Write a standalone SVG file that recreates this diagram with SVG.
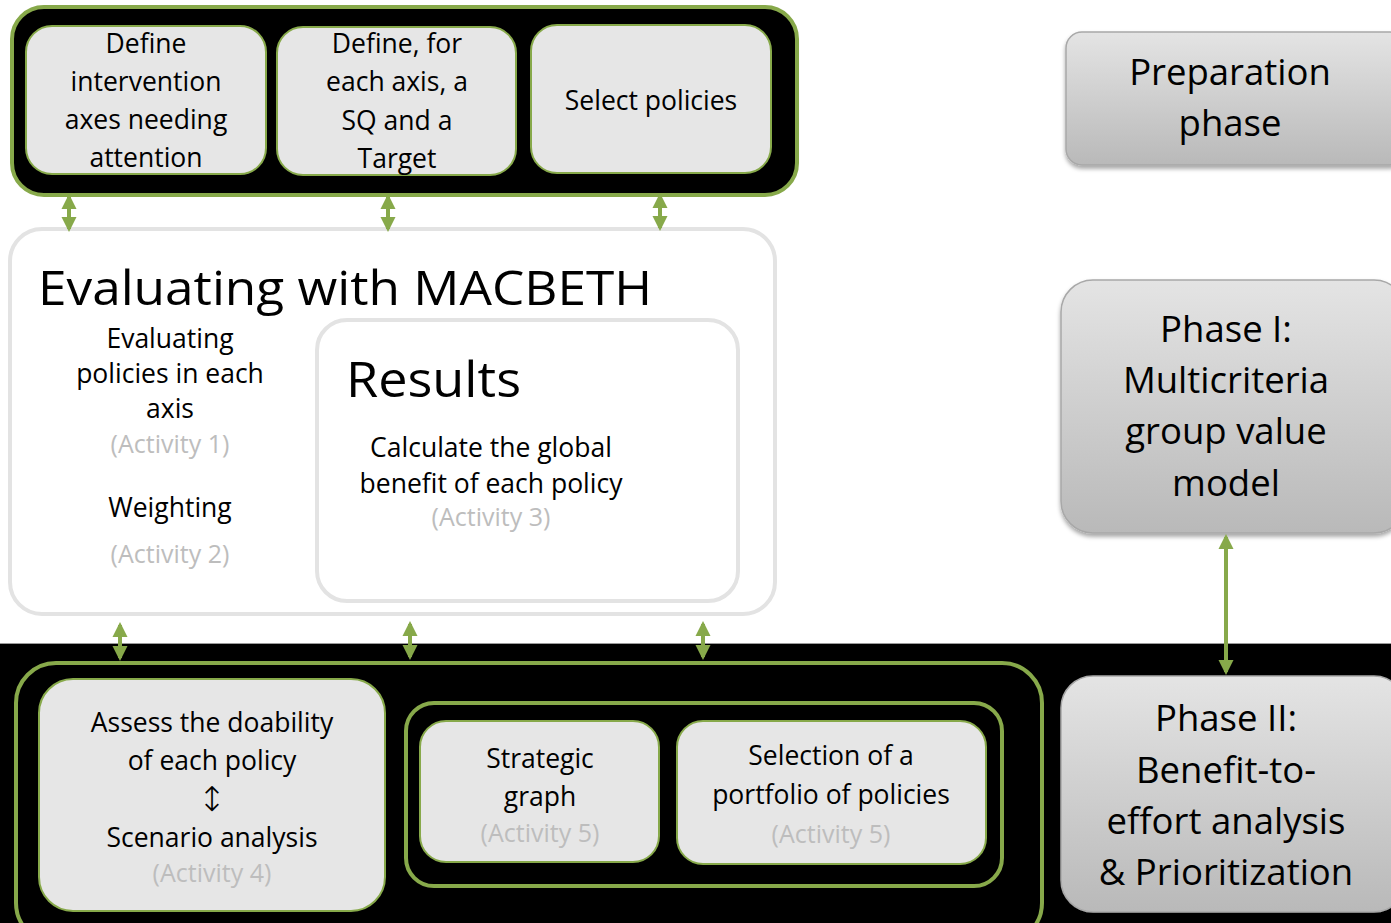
<svg xmlns="http://www.w3.org/2000/svg" width="1391" height="923" viewBox="0 0 1391 923">
<defs>
<linearGradient id="gr" x1="0" y1="0" x2="0" y2="1">
<stop offset="0" stop-color="#e4e4e4"/><stop offset="1" stop-color="#b9b9b9"/>
</linearGradient>
<marker id="ah" viewBox="0 0 10 10" refX="8" refY="5" markerWidth="3.8" markerHeight="3.8" orient="auto-start-reverse" markerUnits="strokeWidth">
<path d="M0,0 L10,5 L0,10 z" fill="#87a94a"/>
</marker>
<filter id="sh" x="-10%" y="-10%" width="120%" height="130%"><feDropShadow dx="0" dy="3" stdDeviation="2" flood-color="#000" flood-opacity="0.35"/></filter>
</defs>
<style>
.t{font-family:"Open Sans","DejaVu Sans",sans-serif;fill:#000;text-anchor:middle}
.b{font-size:26.5px}
.g{fill:#bdbdbd;font-size:25px}
.r{font-size:36.5px}
.box{fill:#e6e6e6;stroke:#87a94a;stroke-width:2}
.grn{fill:#000;stroke:#87a94a;stroke-width:4}
.ph{fill:url(#gr);stroke:#a8a8a8;stroke-width:1.5}
.c{stroke:#87a94a;stroke-width:4;fill:none;marker-start:url(#ah);marker-end:url(#ah)}
</style>
<rect width="1391" height="923" fill="#fff"/>
<rect x="0" y="643" width="1391" height="280" fill="#000"/>
<line x1="0" y1="643.5" x2="1391" y2="643.5" stroke="#9a9a9a" stroke-width="1"/>

<g id="prep-group">
<rect class="grn" x="12" y="7" width="785" height="188" rx="32"/>
</g>
<g id="n-define-axes">
<rect class="box" x="26" y="26" width="240" height="148" rx="26"/>
<text class="t b" x="146" y="53">Define</text>
<text class="t b" x="146" y="91">intervention</text>
<text class="t b" x="146" y="129">axes needing</text>
<text class="t b" x="146" y="167">attention</text>
</g>
<g id="n-define-sq">
<rect class="box" x="277" y="27" width="239" height="148" rx="26"/>
<text class="t b" x="397" y="53">Define, for</text>
<text class="t b" x="397" y="91">each axis, a</text>
<text class="t b" x="397" y="130">SQ and a</text>
<text class="t b" x="397" y="168">Target</text>
</g>
<g id="n-select">
<rect class="box" x="531" y="25" width="240" height="148" rx="26"/>
<text class="t b" x="651" y="110">Select policies</text>
</g>

<g id="n-macbeth">
<rect x="10" y="229" width="765" height="385" rx="32" fill="#fff" stroke="#e3e3e3" stroke-width="4"/>
<text class="t" x="38" y="305" style="text-anchor:start;font-size:48px" textLength="614" lengthAdjust="spacingAndGlyphs">Evaluating with MACBETH</text>
<text class="t b" x="170" y="348">Evaluating</text>
<text class="t b" x="170" y="383">policies in each</text>
<text class="t b" x="170" y="418">axis</text>
<text class="t b g" x="170" y="453">(Activity 1)</text>
<text class="t b" x="170" y="517">Weighting</text>
<text class="t b g" x="170" y="563">(Activity 2)</text>
</g>
<g id="n-results">
<rect x="317" y="320" width="421" height="281" rx="30" fill="#fff" stroke="#e3e3e3" stroke-width="4"/>
<text class="t" x="346" y="397" style="text-anchor:start;font-size:50px" textLength="175" lengthAdjust="spacingAndGlyphs">Results</text>
<text class="t b" x="491" y="457">Calculate the global</text>
<text class="t b" x="491" y="493">benefit of each policy</text>
<text class="t b g" x="491" y="526">(Activity 3)</text>
</g>

<g id="phase2-group">
<rect class="grn" x="16" y="663" width="1026" height="280" rx="40"/>
</g>
<g id="n-assess">
<rect class="box" x="39" y="679" width="346" height="232" rx="34"/>
<text class="t b" x="212" y="732">Assess the doability</text>
<text class="t b" x="212" y="770">of each policy</text>
<text class="t" x="212" y="811" style="font-size:34px;font-family:'DejaVu Sans',sans-serif;font-weight:200">↕</text>
<text class="t b" x="212" y="847">Scenario analysis</text>
<text class="t b g" x="212" y="882">(Activity 4)</text>
</g>
<g id="portfolio-group">
<rect class="grn" x="406" y="703" width="596" height="183" rx="28"/>
</g>
<g id="n-strategic">
<rect class="box" x="420" y="721" width="239" height="141" rx="26"/>
<text class="t b" x="540" y="768">Strategic</text>
<text class="t b" x="540" y="806">graph</text>
<text class="t b g" x="540" y="842">(Activity 5)</text>
</g>
<g id="n-selection">
<rect class="box" x="677" y="721" width="309" height="143" rx="26"/>
<text class="t b" x="831" y="765">Selection of a</text>
<text class="t b" x="831" y="804">portfolio of policies</text>
<text class="t b g" x="831" y="843">(Activity 5)</text>
</g>

<g id="n-preparation">
<rect class="ph" x="1066" y="32" width="340" height="133" rx="16" filter="url(#sh)"/>
<text class="t r" x="1230" y="85">Preparation</text>
<text class="t r" x="1230" y="136">phase</text>
</g>
<g id="n-phase1">
<rect class="ph" x="1061" y="280" width="345" height="253" rx="32" filter="url(#sh)"/>
<text class="t r" x="1226" y="342">Phase I:</text>
<text class="t r" x="1226" y="393">Multicriteria</text>
<text class="t r" x="1226" y="444">group value</text>
<text class="t r" x="1226" y="496">model</text>
</g>
<g id="n-phase2">
<rect class="ph" x="1061" y="676" width="345" height="236" rx="32" filter="url(#sh)"/>
<text class="t r" x="1226" y="731">Phase II:</text>
<text class="t r" x="1226" y="783">Benefit-to-</text>
<text class="t r" x="1226" y="834">effort analysis</text>
<text class="t r" x="1226" y="885">&amp; Prioritization</text>
</g>

<g id="connectors">
<line class="c" x1="69" y1="197" x2="69" y2="229"/>
<line class="c" x1="388" y1="197" x2="388" y2="229"/>
<line class="c" x1="660" y1="196" x2="660" y2="228"/>
<line class="c" x1="120" y1="625" x2="120" y2="658"/>
<line class="c" x1="410" y1="624" x2="410" y2="657"/>
<line class="c" x1="703" y1="624" x2="703" y2="657"/>
<line class="c" x1="1226" y1="537" x2="1226" y2="672"/>
</g>
</svg>
